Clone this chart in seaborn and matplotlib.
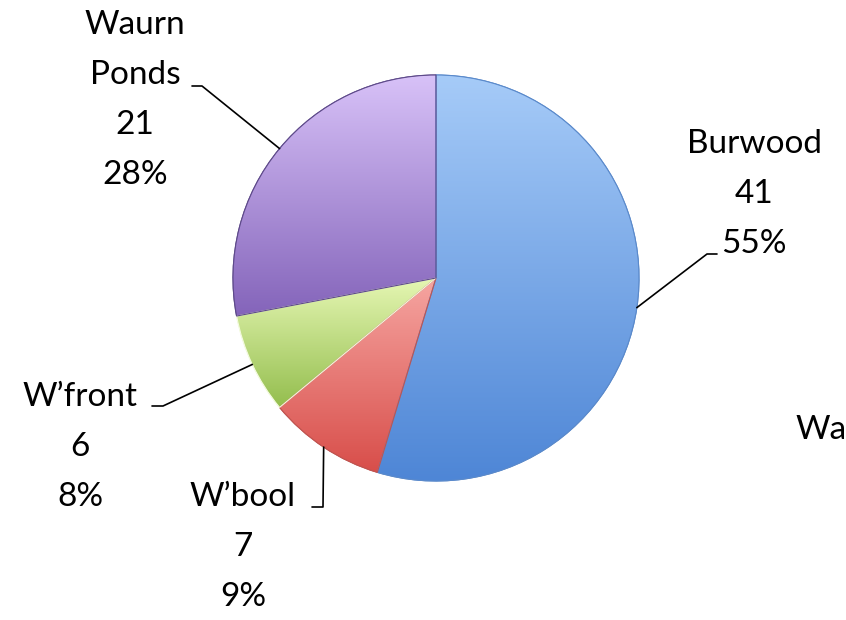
import numpy as np
import matplotlib
matplotlib.use("Agg")
import matplotlib.pyplot as plt
from matplotlib.patches import Wedge
from matplotlib.colors import LinearSegmentedColormap
import seaborn as sns

sns.set_style("white")
plt.rcParams["font.family"] = ["Lato", "DejaVu Sans"]

# data
campus = ["Burwood", "W\u2019bool", "W\u2019front", "Waurn\nPonds"]
counts = [41, 7, 6, 21]
pct_labels = ["55%", "9%", "8%", "28%"]

# slice colours: light (top) -> dark (bottom)
light = ["#A6CBF8", "#F6A6A2", "#E6F7B4", "#D8C2F8"]
dark = ["#4E86D6", "#D84E4A", "#94BE4E", "#8464BA"]
edges = ["#5B8ACB", "#C05450", "#F4FBE0", "#5E4A8A"]

H = 620
cx, cy, rad = 436, H - 278, 203

# label centres and leader elbows, in picture pixels (y down)
label_xy = [(754, 194), (243, 547), (80, 447), (135, 100)]
elbow = [((707, 254), (717, 254)), ((323, 507), (312, 507)),
         ((163, 406), (152, 406)), ((202, 86), (192, 86))]

fig = plt.figure(figsize=(8.46, 6.2), dpi=100)
ax = fig.add_axes([0, 0, 1, 1])

wedges, _ = ax.pie(counts, colors=dark, startangle=90, counterclock=False,
                   center=(cx, cy), radius=rad,
                   wedgeprops=dict(linewidth=0.8))

grad = np.linspace(0, 1, 256).reshape(-1, 1)
for w, c1, c2, ec in zip(wedges, light, dark, edges):
    w.set_edgecolor(ec)
    bb = w.get_path().get_extents()
    cmap = LinearSegmentedColormap.from_list("g", [c2, c1])
    im = ax.imshow(grad, cmap=cmap, origin="lower", aspect="auto",
                   extent=[bb.x0, bb.x1, bb.y0, bb.y1], zorder=w.get_zorder() + 0.1,
                   interpolation="bicubic")
    im.set_clip_path(w)
    # edge on top of the gradient
    ax.add_patch(Wedge((cx, cy), rad, w.theta1, w.theta2, facecolor="none",
                       edgecolor=ec, linewidth=0.8, zorder=w.get_zorder() + 0.2))

for w, name, n, p, (lx, ly), (e1, e2) in zip(wedges, campus, counts, pct_labels,
                                                label_xy, elbow):
    ang = np.deg2rad((w.theta1 + w.theta2) / 2)
    px, py = cx + rad * np.cos(ang), cy + rad * np.sin(ang)
    ax.plot([px, e1[0], e2[0]], [py, H - e1[1], H - e2[1]],
            color="black", lw=1.2, zorder=5)
    ax.text(lx, H - ly, f"{name}\n{n}\n{p}", ha="center", va="center",
            fontsize=24, linespacing=1.83, color="black")

ax.text(795, H - 430, "Wa", ha="left", va="center", fontsize=24, color="black")

ax.set_xlim(0, 846)
ax.set_ylim(0, H)
ax.set_aspect("equal")
ax.axis("off")
fig.savefig("out.png", dpi=100)
